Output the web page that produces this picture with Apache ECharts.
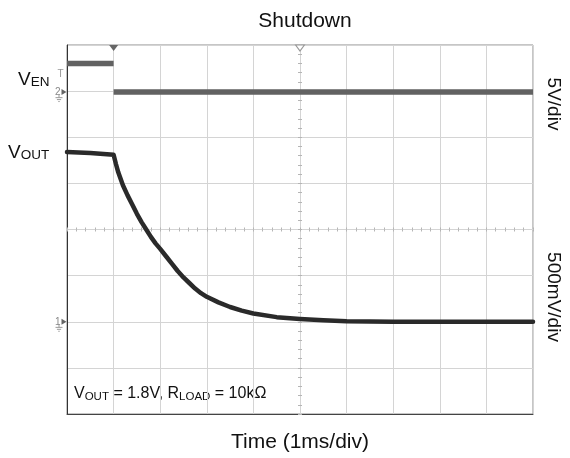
<!DOCTYPE html>
<html>
  <head>
    <title></title>
    <meta charset="UTF-8" />
    <script src="https://cdn.jsdelivr.net/npm/echarts@6/dist/echarts.min.js"></script>
  </head>
  <body style="margin:0;background:#fff">
    <div id="main"></div>
    <script>
      const width = 570;
      const height = 458;
      const main = document.getElementById('main');
      main.style.width = `${width}px`;
      main.style.height = `${height}px`;

      const FONT = '"Liberation Sans", Arial, sans-serif';

      // time in ms (1 ms/div), trigger at 1 ms
      const triggerTime = 1;
      const centerTime = 5;

      // EN channel (5 V/div), volts
      const venTime = [0, 1, 1, 1, 10];
      const venVolts = [3.1, 3.1, '-', 0, 0];
      const venTrigLevel = 1.9;

      // VOUT channel (500 mV/div), volts
      const voutTime = [0, 0.5, 1.0, 1.05, 1.1, 1.2, 1.3, 1.4, 1.5, 1.6, 1.7, 1.8, 1.9, 2.0, 2.125, 2.25, 2.375, 2.5, 2.625, 2.75, 2.875, 3.0, 3.25, 3.5, 3.75, 4.0, 4.5, 5.0, 5.5, 6.0, 7.0, 8.0, 9.0, 10.0];
      const voutVolts = [1.84, 1.83, 1.81, 1.71, 1.62, 1.48, 1.37, 1.27, 1.17, 1.08, 1.0, 0.92, 0.85, 0.79, 0.71, 0.63, 0.55, 0.48, 0.42, 0.36, 0.31, 0.27, 0.21, 0.16, 0.12, 0.09, 0.05, 0.03, 0.015, 0.005, 0.0, 0.0, 0.0, 0.0];

      const venData = venTime.map((t, i) => [t, venVolts[i]]);
      const voutData = voutTime.map((t, i) => [t, voutVolts[i]]);

      const groundPath = 'path://M5,0L5,4M0,4L10,4M2,6.5L8,6.5M4,9L6,9';

      function channelMarks(num) {
        return [
          {
            coord: [0, 0],
            symbol: 'triangle',
            symbolRotate: -90,
            symbolSize: [6, 5],
            symbolOffset: [-3, 0],
            itemStyle: { color: '#666' },
            label: { show: true, formatter: num, position: 'left', distance: 1, fontSize: 10, color: '#888', fontFamily: FONT },
          },
          {
            coord: [0, 0],
            symbol: groundPath,
            symbolSize: [7, 7],
            symbolOffset: [-8, 6],
            itemStyle: { color: 'none', borderColor: '#999', borderWidth: 1 },
            label: { show: false },
          },
        ];
      }

      const divTickAxis = (extra) =>
        Object.assign(
          {
            type: 'value',
            min: -5,
            max: 5,
            interval: 1,
            axisLine: { show: true, onZero: true, onZeroAxisIndex: 0, lineStyle: { color: '#d4d4d4' } },
            axisTick: { show: true, length: 2, lineStyle: { color: '#b5b5b5' } },
            minorTick: { show: true, splitNumber: 5, length: 2, lineStyle: { color: '#b5b5b5' } },
            axisLabel: { show: false },
            splitLine: { show: false },
          },
          extra
        );

      const myChart = echarts.init(main);
      const option = {
        animation: false,
        backgroundColor: '#fff',
        title: {
          text: 'Shutdown',
          left: 300,
          top: 6,
          textAlign: 'center',
          textStyle: { fontSize: 21, fontWeight: 'normal', color: '#111', fontFamily: FONT },
        },
        grid: {
          left: 67,
          top: 45,
          width: 466,
          height: 369,
          show: true,
          borderColor: '#8c8c8c',
          borderWidth: 1,
        },
        xAxis: [
          {
            type: 'value',
            min: 0,
            max: 10,
            interval: 1,
            position: 'bottom',
            name: 'Time (1ms/div)',
            nameLocation: 'middle',
            nameGap: 18,
            nameTextStyle: { fontSize: 21, color: '#111', fontFamily: FONT },
            axisLine: { show: true, onZero: false, lineStyle: { color: '#444' } },
            axisTick: { show: false },
            axisLabel: { show: false },
            splitLine: { show: true, lineStyle: { color: '#d4d4d4' } },
          },
          divTickAxis({ position: 'bottom' }),
          divTickAxis({ position: 'top' }),
        ],
        yAxis: [
          {
            type: 'value',
            min: -4,
            max: 4,
            interval: 1,
            position: 'left',
            axisLine: { show: true, onZero: false, lineStyle: { color: '#333' } },
            axisTick: { show: false },
            axisLabel: { show: false },
            splitLine: { show: true, lineStyle: { color: '#d4d4d4' } },
          },
          divTickAxis({ min: -4, max: 4, position: 'left', axisLine: { show: true, onZero: true, onZeroAxisIndex: 1, lineStyle: { color: '#d4d4d4' } } }),
          divTickAxis({ min: -4, max: 4, position: 'right', axisLine: { show: true, onZero: true, onZeroAxisIndex: 1, lineStyle: { color: '#d4d4d4' } } }),
          { type: 'value', min: -34.9, max: 5.1, show: false, axisLine: { onZero: false } },
          { type: 'value', min: -1, max: 3, show: false, axisLine: { onZero: false } },
        ],
        series: [
          {
            name: 'VEN',
            type: 'line',
            xAxisIndex: 0,
            yAxisIndex: 3,
            data: venData,
            showSymbol: false,
            connectNulls: false,
            lineStyle: { color: '#626262', width: 5.5 },
            z: 3,
            markPoint: {
              silent: true,
              data: [
                {
                  coord: [triggerTime, 5.1],
                  symbol: 'triangle',
                  symbolRotate: 180,
                  symbolSize: [9, 6],
                  symbolOffset: [0, 3],
                  itemStyle: { color: '#666' },
                  label: { show: false },
                },
                {
                  coord: [centerTime, 5.1],
                  symbol: 'triangle',
                  symbolRotate: 180,
                  symbolSize: [9, 6],
                  symbolOffset: [0, 3],
                  itemStyle: { color: '#fff', borderColor: '#999', borderWidth: 1 },
                  label: { show: false },
                },
                {
                  coord: [0, venTrigLevel],
                  symbol: 'rect',
                  symbolSize: [1, 1],
                  symbolOffset: [-3, 0],
                  itemStyle: { color: 'none' },
                  label: { show: true, formatter: 'T', position: 'left', distance: 0, fontSize: 10, color: '#999', fontFamily: FONT },
                },
              ].concat(channelMarks('2')),
            },
          },
          {
            name: 'VOUT',
            type: 'line',
            xAxisIndex: 0,
            yAxisIndex: 4,
            data: voutData,
            showSymbol: false,
            smooth: false,
            lineStyle: { color: '#2a2a2a', width: 4.5, join: 'round', cap: 'round' },
            z: 4,
            markPoint: {
              silent: true,
              data: channelMarks('1'),
            },
          },
        ],
        graphic: [
          {
            type: 'text',
            left: 18,
            top: 70,
            style: {
              text: '{v|V}{s|EN}',
              rich: {
                v: { fontSize: 19, lineHeight: 20, fontFamily: FONT, fill: '#111' },
                s: { fontSize: 13.5, lineHeight: 15, verticalAlign: 'bottom', fontFamily: FONT, fill: '#111' },
              },
            },
          },
          {
            type: 'text',
            left: 8,
            top: 143,
            style: {
              text: '{v|V}{s|OUT}',
              rich: {
                v: { fontSize: 19, lineHeight: 20, fontFamily: FONT, fill: '#111' },
                s: { fontSize: 13.5, lineHeight: 15, verticalAlign: 'bottom', fontFamily: FONT, fill: '#111' },
              },
            },
          },
          {
            type: 'text',
            left: 74,
            top: 386,
            style: {
              text: '{v|V}{s|OUT}{v| = 1.8V, R}{s|LOAD}{v| = 10kΩ}',
              rich: {
                v: { fontSize: 16, lineHeight: 17, fontFamily: FONT, fill: '#111' },
                s: { fontSize: 11.5, lineHeight: 13, verticalAlign: 'bottom', fontFamily: FONT, fill: '#111' },
              },
            },
          },
          {
            type: 'text',
            x: 553,
            y: 104,
            rotation: -Math.PI / 2,
            style: { text: '5V/div', fontSize: 19, fontFamily: FONT, fill: '#111', align: 'center', verticalAlign: 'middle' },
          },
          {
            type: 'text',
            x: 553,
            y: 297,
            rotation: -Math.PI / 2,
            style: { text: '500mV/div', fontSize: 19, fontFamily: FONT, fill: '#111', align: 'center', verticalAlign: 'middle' },
          },
        ],
      };
      myChart.setOption(option);
    </script>
  </body>
</html>
